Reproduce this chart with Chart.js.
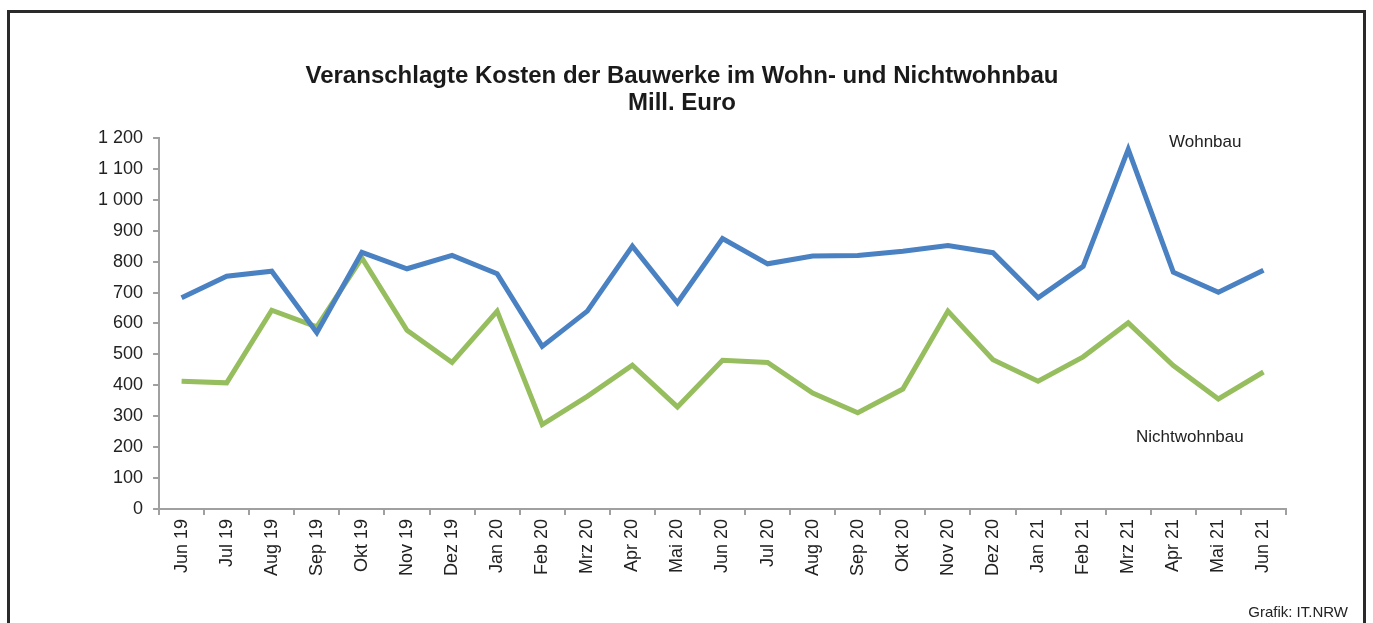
<!DOCTYPE html>
<html>
<head>
<meta charset="utf-8">
<script src="https://cdn.jsdelivr.net/npm/chart.js@4"></script>
<style>
  body { margin: 0; background: #fff; }
  canvas { display: block; }
</style>
</head>
<body>
<canvas id="kostenChart" width="1373" height="623"></canvas>
<script>
const monate = ['Jun 19', 'Jul 19', 'Aug 19', 'Sep 19', 'Okt 19', 'Nov 19', 'Dez 19', 'Jan 20', 'Feb 20', 'Mrz 20', 'Apr 20', 'Mai 20', 'Jun 20',
  'Jul 20', 'Aug 20', 'Sep 20', 'Okt 20', 'Nov 20', 'Dez 20', 'Jan 21', 'Feb 21', 'Mrz 21', 'Apr 21', 'Mai 21', 'Jun 21'];
const wohnbau = [683, 753, 769, 570, 830, 777, 820, 761, 526, 640, 850, 667, 875,
  793, 818, 820, 834, 852, 829, 683, 785, 1163, 766, 701, 772];
const nichtwohnbau = [413, 408, 643, 589, 812, 578, 474, 640, 273, 364, 465, 330, 481,
  474, 375, 311, 388, 640, 483, 413, 492, 602, 464, 356, 443];
const yTicks = [0, 100, 200, 300, 400, 500, 600, 700, 800, 900, 1000, 1100, 1200];

const FONT = '"Liberation Sans", Arial, sans-serif';
const TEXT = '#222222';
const AXIS = '#a0a0a0';

// Rahmen, Titel, Serienbeschriftungen und Quelle
const extras = {
  id: 'extras',
  afterDraw(chart) {
    const ctx = chart.ctx;
    ctx.save();
    ctx.strokeStyle = '#2a2a2a';
    ctx.lineWidth = 3;
    ctx.beginPath();
    ctx.moveTo(8.5, 640);
    ctx.lineTo(8.5, 11.5);
    ctx.lineTo(1364.5, 11.5);
    ctx.lineTo(1364.5, 640);
    ctx.stroke();

    ctx.fillStyle = '#1a1a1a';
    ctx.textAlign = 'center';
    ctx.textBaseline = 'middle';
    ctx.font = 'bold 24px ' + FONT;
    ctx.fillText('Veranschlagte Kosten der Bauwerke im Wohn- und Nichtwohnbau', 682, 76);
    ctx.fillText('Mill. Euro', 682, 103);

    ctx.fillStyle = TEXT;
    ctx.font = '17px ' + FONT;
    ctx.textAlign = 'left';
    ctx.fillText('Wohnbau', 1169, 142);
    ctx.fillText('Nichtwohnbau', 1136, 437);
    ctx.font = '15px ' + FONT;
    ctx.textAlign = 'right';
    ctx.fillText('Grafik: IT.NRW', 1348, 613);
    ctx.restore();
  }
};

new Chart(document.getElementById('kostenChart'), {
  type: 'line',
  data: {
    labels: monate,
    datasets: [
      {
        label: 'Wohnbau',
        data: wohnbau,
        borderColor: '#4A81C2',
        borderWidth: 5,
        pointRadius: 0,
        tension: 0,
        fill: false
      },
      {
        label: 'Nichtwohnbau',
        data: nichtwohnbau,
        borderColor: '#96BE5E',
        borderWidth: 5,
        pointRadius: 0,
        tension: 0,
        fill: false
      }
    ]
  },
  options: {
    responsive: false,
    animation: false,
    layout: { padding: { left: 88, right: 87, top: 138, bottom: 43 } },
    plugins: {
      legend: { display: false },
      tooltip: { enabled: false },
      title: { display: false }
    },
    scales: {
      x: {
        offset: true,
        border: { display: true, color: AXIS, width: 2 },
        grid: { display: true, drawOnChartArea: false, drawTicks: true, tickLength: 6, color: AXIS, lineWidth: 2, offset: true },
        ticks: {
          color: TEXT,
          font: { family: FONT, size: 18 },
          maxRotation: 90,
          minRotation: 90,
          autoSkip: false,
          padding: 4
        }
      },
      y: {
        min: 0,
        max: 1200,
        afterBuildTicks(axis) {
          axis.ticks = yTicks.map(v => ({ value: v }));
        },
        border: { display: true, color: AXIS, width: 2 },
        grid: { display: true, drawOnChartArea: false, drawTicks: true, tickLength: 6, color: AXIS, lineWidth: 2 },
        ticks: {
          color: TEXT,
          font: { family: FONT, size: 18 },
          padding: 10,
          callback: v => String(v).replace(/\B(?=(\d{3})+(?!\d))/g, ' ')
        }
      }
    }
  },
  plugins: [extras]
});
</script>
</body>
</html>
